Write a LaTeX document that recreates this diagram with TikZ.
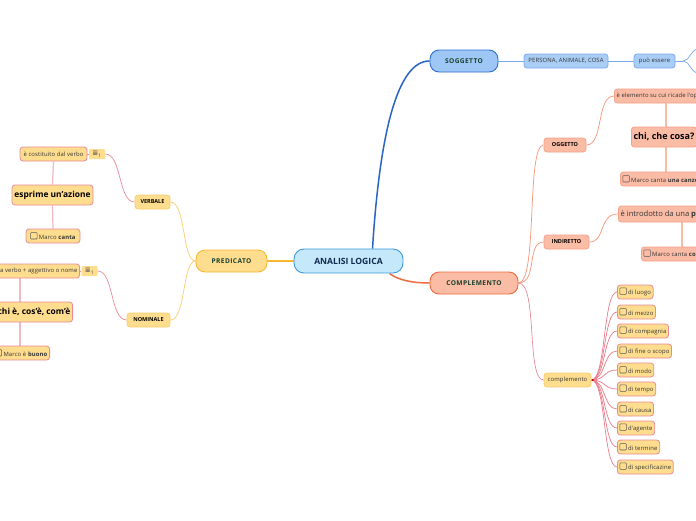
\documentclass[tikz,border=0pt]{standalone}
\usepackage{fontspec}
\setmainfont{Open Sans}
\newfontfamily\spc[LetterSpace=6]{Open Sans}
\newfontfamily\sml[LetterSpace=2]{Open Sans}
\newfontfamily\dvs{DejaVu Sans}
\usetikzlibrary{calc}
\pgfdeclarelayer{bg}
\pgfdeclarelayer{edges}
\pgfsetlayers{bg,edges,main}
\definecolor{bluefill}{HTML}{C6E8FB}
\definecolor{blueborder}{HTML}{3B9AD9}
\definecolor{sogfill}{HTML}{9FC7F5}
\definecolor{sogborder}{HTML}{2D6FD6}
\definecolor{lbfill}{HTML}{A9CDF5}
\definecolor{lbborder}{HTML}{7AAAF0}
\definecolor{yfill}{HTML}{FFDD8E}
\definecolor{yborder}{HTML}{F7B733}
\definecolor{ypink}{HTML}{E88A9A}
\definecolor{sfill}{HTML}{FBBCA6}
\definecolor{sborder}{HTML}{F28A6A}
\definecolor{sdark}{HTML}{EF6A3F}
\definecolor{navy}{HTML}{0F2A4F}
\definecolor{dgreen}{HTML}{173F2C}
\definecolor{txt}{HTML}{333333}
\newcommand{\cbx}{\tikz[baseline=-0.6pt]\draw[draw=black!65,line width=0.55pt,rounded corners=0.7pt] (0,0) rectangle (6.4pt,6.4pt);\hspace{1.6pt}}
\tikzset{
  base/.style={rounded corners=3pt, line width=0.8pt, inner sep=2.2pt, text=txt, font=\sml\fontsize{5.9}{7}\selectfont},
  bignode/.style={rounded corners=9pt, line width=0.9pt, minimum height=22pt, font=\bfseries\fontsize{7}{8}\selectfont, text=dgreen},
  ybox/.style={base, fill=yfill, draw=ypink, minimum height=14pt},
  yboxo/.style={base, fill=yfill, draw=yborder!70, minimum height=14pt},
  sbox/.style={base, fill=sfill, draw=sborder!80, minimum height=14pt},
  bbox/.style={base, fill=lbfill, draw=lbborder, minimum height=14pt},
  smallbold/.style={font=\bfseries\fontsize{5.5}{6}\selectfont, text=black},
  notebox/.style={fill=yfill, draw=none, rounded corners=1pt, inner sep=1pt, minimum width=16pt, minimum height=10pt, font=\fontsize{5}{6}\selectfont, text=black!70},
  rootedge/.style={line width=1.5pt},
  thin/.style={line width=0.7pt},
}
\begin{document}
\begin{tikzpicture}[x=1pt,y=-1pt]
\useasboundingbox (0,0) rectangle (696,520);
\clip (0,0) rectangle (696,520);
\begin{pgfonlayer}{bg}
\fill[white] (0,0) rectangle (696,520);
\end{pgfonlayer}

% central
\node[bignode, fill=bluefill, draw=blueborder, minimum width=109pt, minimum height=24pt, rounded corners=10pt, text=navy, font=\bfseries\fontsize{8.6}{10}\selectfont] (root) at (348.5,261) {ANALISI LOGICA};
\node[bignode, fill=yfill, draw=yborder, minimum width=71pt, font=\bfseries\spc\fontsize{6.6}{8}\selectfont] (pred) at (231.5,261) {PREDICATO};
\node[bignode, fill=sogfill, draw=sogborder, minimum width=68pt, font=\bfseries\spc\fontsize{6.6}{8}\selectfont] (sogg) at (464,61) {SOGGETTO};
\node[bignode, fill=sfill, draw=sdark, minimum width=88pt, font=\bfseries\spc\fontsize{6.6}{8}\selectfont] (comp) at (474,283) {COMPLEMENTO};

% soggetto branch
\node[bbox, minimum width=84pt] (pers) at (566,61) {PERSONA, ANIMALE, COSA};
\node[bbox, minimum width=41pt] (puo) at (654.5,61) {può essere};
\coordinate (pb) at (683,61);
\coordinate (pu) at (698,49);
\coordinate (pd) at (698,73);

% complemento branch
\node[sbox, smallbold, minimum width=42pt] (ogg) at (565,145) {OGGETTO};
\node[sbox, anchor=west] (ogg1) at (614,96) {è elemento su cui ricade l'operato del soggetto};
\node[sbox, anchor=west, minimum height=20pt, font=\bfseries\fontsize{9}{10}\selectfont, text=black] (chi) at (631,137) {chi, che cosa?};
\node[sbox, anchor=west] (mc1) at (620,179) {\cbx Marco canta \textbf{una canzone}};
\coordinate (ox) at (666,0);

\node[sbox, smallbold, minimum width=45pt] (ind) at (566.5,242) {INDIRETTO};
\node[sbox, anchor=west, minimum height=16pt, font=\fontsize{7.6}{8}\selectfont] (ind1) at (618,214) {è introdotto da una \textbf{preposizione}};
\node[sbox, anchor=west] (mc2) at (641,254) {\cbx Marco canta \textbf{con gioia}};
\coordinate (ix) at (682,0);

\node[yboxo, minimum width=47pt] (cpl) at (567.5,380) {complemento};
\foreach \n/\y/\t in {c1/292/di luogo, c2/312/di mezzo, c3/331/di compagnia, c4/351/di fine o scopo, c5/370/di modo, c6/389/di tempo, c7/409/di causa, c8/428/d'agente, c9/447/di termine, c10/467/di specificazine}{
  \node[ybox, anchor=west] (\n) at (617,\y) {\cbx \t};
}

% predicato branch
\node[yboxo, smallbold, minimum width=35pt] (verb) at (152.5,202) {VERBALE};
\node[yboxo, smallbold, minimum width=43pt] (nom) at (148.5,320) {NOMINALE};
\node[ybox, minimum width=67pt] (vb1) at (53.5,154) {è costituito dal verbo};
\node[notebox] (nv) at (97,154) {{\dvs\fontsize{7}{7}\selectfont ≣}\textsubscript{1}};
\node[ybox, minimum width=81pt, minimum height=20pt, font=\bfseries\fontsize{8.4}{10}\selectfont, text=black] (vb2) at (52.5,195) {esprime un'azione};
\node[ybox, minimum width=54pt] (vb3) at (53,236) {\cbx Marco \textbf{canta}};

\node[ybox, anchor=east] (nm1) at (80,271) {è costituito da verbo + aggettivo o nome};
\node[notebox] (nn) at (89.5,271) {{\dvs\fontsize{7}{7}\selectfont ≣}\textsubscript{1}};
\node[ybox, anchor=east, minimum height=20pt, font=\bfseries\fontsize{8.4}{10}\selectfont, text=black] (nm2) at (73,312) {chi è, cos'è, com'è};
\node[ybox, anchor=east] (nm3) at (50,353) {\cbx Marco è \textbf{buono}};
\coordinate (nx) at (20,0);

% connectors
\begin{pgfonlayer}{edges}
\coordinate (rs) at ($(root.north)+(24,0)$);
\coordinate (rc) at ($(root.south east)+(-14,0)$);
\draw[rootedge, draw=sogborder!90!black] (rs) .. controls (380,130) and (398,61) .. (sogg.west);
\draw[rootedge, draw=sdark] (rc) .. controls (398,280) and (412,283) .. (comp.west);
\draw[rootedge, draw=yborder] (root.west) -- (pred.east);

\draw[thin, draw=lbborder] (sogg.east) -- (pers.west);
\draw[thin, draw=lbborder] (pers.east) -- (puo.west);
\draw[thin, draw=lbborder] (puo.east) -- (pb);
\draw[thin, draw=lbborder] (pb) .. controls (690,61) and (690,50) .. (pu);
\draw[thin, draw=lbborder] (pb) .. controls (690,61) and (690,72) .. (pd);

\draw[thin, draw=sborder!90] (comp.east) .. controls (538,283) and (526,145) .. (ogg.west);
\draw[thin, draw=sborder!90] (comp.east) .. controls (538,283) and (526,242) .. (ind.west);
\draw[thin, draw=ypink] (comp.east) .. controls (538,283) and (526,380) .. (cpl.west);

\draw[thin, draw=sborder!90] (ogg.east) .. controls (604,145) and (596,96) .. (ogg1.west);
\draw[line width=1.2pt, draw=sfill] (ox |- ogg1.south) -- (ox |- chi.north);
\draw[line width=1.2pt, draw=sfill] (ox |- chi.south) -- (ox |- mc1.north);
\draw[thin, draw=sborder!90] (ind.east) .. controls (606,242) and (598,214) .. (ind1.west);
\draw[line width=1.2pt, draw=sfill] (ix |- ind1.south) -- (ix |- mc2.north);

\foreach \n in {c1,c2,c3,c4,c5,c6,c7,c8,c9,c10}{
  \draw[thin, draw=ypink!90!red] (cpl.east) .. controls (606,380) and (603,0 |- \n.west) .. (\n.west);
}
\fill[red!75!black] ($(cpl.east)+(1.2,0)$) circle (1.2pt);

\draw[thin, draw=yborder!70] (pred.west) .. controls (182,261) and (186,202) .. (verb.east);
\draw[thin, draw=yborder!70] (pred.west) .. controls (182,261) and (186,320) .. (nom.east);
\draw[thin, draw=ypink] (vb1.east) -- (nv.west);
\draw[thin, draw=ypink] (nv.east) .. controls (122,154) and (118,202) .. (verb.west);
\draw[thin, draw=ypink] (nm1.east) -- (nn.west);
\draw[thin, draw=ypink] (nn.east) .. controls (114,271) and (110,320) .. (nom.west);
\draw[line width=1.2pt, draw=ypink!60] (vb1.south) -- (vb2.north);
\draw[line width=1.2pt, draw=ypink!60] (vb2.south) -- (vb3.north);
\draw[line width=1.2pt, draw=ypink!60] (nx |- nm1.south) -- (nx |- nm2.north);
\draw[line width=1.2pt, draw=ypink!60] (nx |- nm2.south) -- (nx |- nm3.north);
\end{pgfonlayer}
\end{tikzpicture}
\end{document}
